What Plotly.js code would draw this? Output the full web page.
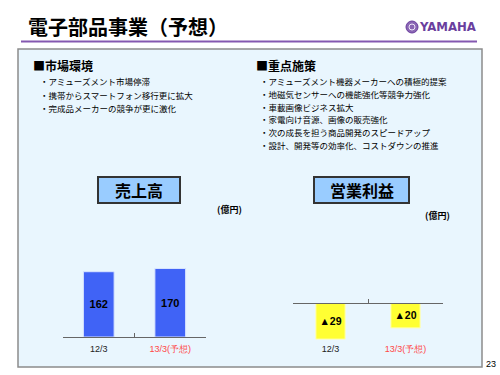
<!DOCTYPE html>
<html>
<head>
<meta charset="utf-8">
<script src="https://cdn.plot.ly/plotly-3.0.1.min.js"></script>
<style>html,body{margin:0;padding:0;background:#fff;}#chart{width:500px;height:375px;}</style>
</head>
<body>
<div id="chart"></div>
<script>
// ---- data ----
const pageTitle = '電子部品事業（予想）';
const categories = ['12/3', '13/3(予想)'];
const forecastFlags = [false, true];
const salesValues = [162, 170];
const opIncomeValues = [-29, -20];
const salesTitle = '売上高';
const opIncomeTitle = '営業利益';
const unitLabel = '(億円)';
const marketHeader = '■市場環境';
const marketBullets = [
  '・アミューズメント市場停滞',
  '・携帯からスマートフォン移行更に拡大',
  '・完成品メーカーの競争が更に激化'
];
const measuresHeader = '■重点施策';
const measuresBullets = [
  '・アミューズメント機器メーカーへの積極的提案',
  '・地磁気センサーへの機能強化等競争力強化',
  '・車載画像ビジネス拡大',
  '・家電向け音源、画像の販売強化',
  '・次の成長を担う商品開発のスピードアップ',
  '・設計、開発等の効率化、コストダウンの推進'
];
const pageNumber = '23';

// ---- helpers ----
const W = 500, H = 375;
const px = x => x / W;
const py = y => 1 - y / H;
const JP = '"Noto Sans CJK JP", "Noto Sans", sans-serif';
const SANS = '"Liberation Sans", Arial, sans-serif';
const fmtSigned = v => v < 0 ? '▲' + Math.abs(v) : String(v);
const tickTexts = categories.map((c, i) => forecastFlags[i] ? '<span style="color:#FF4848">' + c + '</span>' : c);

const traces = [
  {
    type: 'bar', x: categories, y: salesValues, xaxis: 'x', yaxis: 'y',
    width: 0.43,
    marker: {color: '#4063F6', line: {color: '#D8E4FF', width: 1}},
    text: salesValues.map(fmtSigned), textposition: 'inside', insidetextanchor: 'middle',
    textfont: {family: SANS, size: 11, color: '#000', weight: 'bold'},
    hoverinfo: 'skip'
  },
  {
    type: 'bar', x: categories, y: opIncomeValues, xaxis: 'x2', yaxis: 'y2',
    width: 0.39,
    marker: {color: '#FFFF33', line: {color: '#FFFFB0', width: 1}},
    text: opIncomeValues.map(fmtSigned), textposition: 'inside', insidetextanchor: 'middle',
    textfont: {family: SANS, size: 10.5, color: '#000', weight: 'bold'},
    hoverinfo: 'skip'
  }
];

const ann = [];
function txt(x, y, text, size, opts) {
  ann.push(Object.assign({
    xref: 'paper', yref: 'paper', x: px(x), y: py(y), text: text, showarrow: false,
    xanchor: 'left', yanchor: 'middle',
    font: {family: JP, size: size, color: '#000'}
  }, opts || {}));
}
txt(26, 27, pageTitle, 20, {font: {family: JP, size: 20, color: '#000', weight: 'bold'}});
txt(478, 27, 'YAMAHA', 13, {xanchor: 'right', font: {family: '"DejaVu Sans Condensed", "Liberation Sans", Arial, sans-serif', size: 13, color: '#6A3E9E', weight: 'bold'}});
txt(31, 65, marketHeader, 12, {font: {family: JP, size: 12, color: '#000', weight: 'bold'}});
marketBullets.forEach((b, i) => txt(38, 81 + i * 13.5, b, 8.5));
txt(254, 65, measuresHeader, 12, {font: {family: JP, size: 12, color: '#000', weight: 'bold'}});
measuresBullets.forEach((b, i) => txt(258, 81 + i * 12.8, b, 8.5));
txt(139, 190, salesTitle, 16, {xanchor: 'center', font: {family: JP, size: 16, color: '#000', weight: 'bold'}});
txt(361.5, 190, opIncomeTitle, 16, {xanchor: 'center', font: {family: JP, size: 16, color: '#000', weight: 'bold'}});
txt(229, 209, unitLabel, 9, {xanchor: 'center', font: {family: JP, size: 9, color: '#000', weight: 'bold'}});
txt(437, 215, unitLabel, 9, {xanchor: 'center', font: {family: JP, size: 9, color: '#000', weight: 'bold'}});
txt(484, 364, pageNumber, 9, {font: {family: SANS, size: 9, color: '#000'}});

const shapes = [
  // panel
  {type: 'rect', xref: 'paper', yref: 'paper', x0: px(18), x1: px(482), y0: py(367), y1: py(49),
   fillcolor: '#E9F6FE', line: {color: '#8C8C8C', width: 1.5}, layer: 'below'},
  // purple underline
  {type: 'line', xref: 'paper', yref: 'paper', x0: px(21), x1: px(477), y0: py(41.5), y1: py(41.5),
   line: {color: '#8458B0', width: 2}},
  // title boxes
  {type: 'rect', xref: 'paper', yref: 'paper', x0: px(98), x1: px(180), y0: py(203), y1: py(177),
   fillcolor: '#99CCFF', line: {color: '#333', width: 2}},
  {type: 'rect', xref: 'paper', yref: 'paper', x0: px(314), x1: px(409), y0: py(203), y1: py(177),
   fillcolor: '#99CCFF', line: {color: '#333', width: 2}},
  // logo emblem
  {type: 'circle', xref: 'paper', yref: 'paper', x0: px(406), x1: px(418), y0: py(33), y1: py(21),
   fillcolor: '#8A66B4', line: {color: '#6A3E9E', width: 1}},
  {type: 'circle', xref: 'paper', yref: 'paper', x0: px(409), x1: px(415), y0: py(30), y1: py(24),
   fillcolor: 'rgba(0,0,0,0)', line: {color: '#F0E8F8', width: 1}}
];

const axisCommon = {
  type: 'category', range: [-0.5, 1.5], tickson: 'boundaries', ticks: 'inside', ticklen: 4,
  tickcolor: '#666', showline: true, linecolor: '#666', linewidth: 1, showgrid: false, zeroline: false,
  tickmode: 'array', tickvals: categories, ticktext: tickTexts,
  tickfont: {family: SANS, size: 9, color: '#222'}, fixedrange: true
};

const layout = {
  width: W, height: H, margin: {l: 0, r: 0, t: 0, b: 0},
  paper_bgcolor: '#FFFFFF', plot_bgcolor: 'rgba(0,0,0,0)', showlegend: false,
  xaxis: Object.assign({}, axisCommon, {domain: [px(63), px(206)], anchor: 'y', ticklabelstandoff: 3}),
  yaxis: {domain: [py(337), py(220)], range: [0, 117 / 0.403], visible: false, fixedrange: true},
  xaxis2: Object.assign({}, axisCommon, {domain: [px(293), px(443)], anchor: 'free', position: py(303), ticklabelstandoff: 37}),
  yaxis2: {domain: [py(345), py(303)], range: [-42 / 1.245, 0], visible: false, fixedrange: true},
  shapes: shapes, annotations: ann, bargap: 0
};

Plotly.newPlot('chart', traces, layout, {staticPlot: true, displayModeBar: false});
</script>
</body>
</html>
